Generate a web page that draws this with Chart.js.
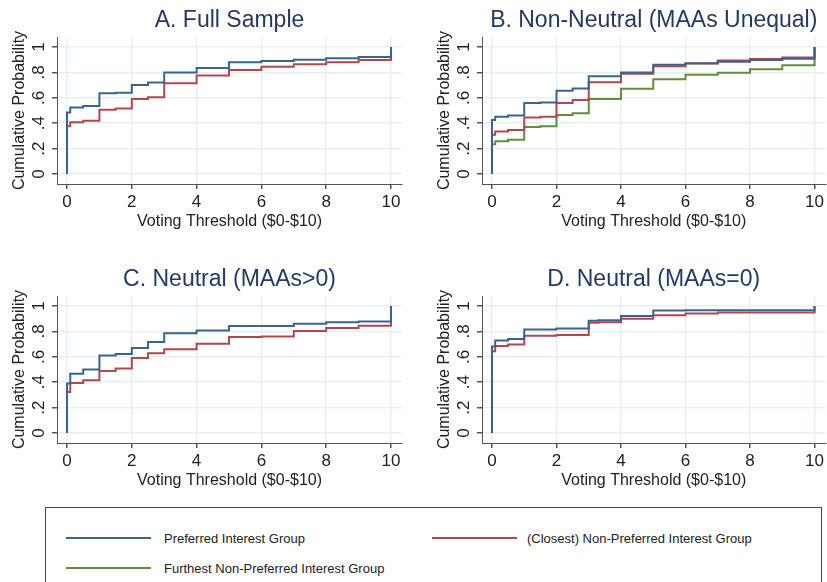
<!DOCTYPE html>
<html lang="en">
<head>
<meta charset="UTF-8">
<title>Voting Threshold - Cumulative Probability</title>
<script src="https://cdn.jsdelivr.net/npm/chart.js"></script>
<style>
  body { margin: 0; background: #fff; width: 827px; height: 582px; position: relative; overflow: hidden; }
  .painel { position: absolute; height: 235px; }
  .legenda { position: absolute; left: 45px; top: 507px; width: 777px; height: 90px; border: 1px solid #444;
    box-sizing: border-box; font-family: "Liberation Sans Narrow", "Arial Narrow", "Liberation Sans", sans-serif;
    font-size: 13px; color: #222; }
  .item { position: absolute; display: flex; align-items: center; height: 16px; }
  .traco { width: 85px; height: 2px; margin-right: 13px; }
</style>
</head>
<body>
  <div class="painel" style="left:0; top:0; width:410px;"><canvas id="graficoA"></canvas></div>
  <div class="painel" style="left:425px; top:0; width:402px;"><canvas id="graficoB"></canvas></div>
  <div class="painel" style="left:0; top:259px; width:410px;"><canvas id="graficoC"></canvas></div>
  <div class="painel" style="left:425px; top:259px; width:402px;"><canvas id="graficoD"></canvas></div>

  <div class="legenda">
    <div class="item" style="left:20px; top:22px;"><div class="traco" style="background:#38648f"></div>Preferred Interest Group</div>
    <div class="item" style="left:386px; top:22px;"><div class="traco" style="background:#b3464f; margin-right:10px"></div>(Closest) Non-Preferred Interest Group</div>
    <div class="item" style="left:20px; top:52px;"><div class="traco" style="background:#648c3a"></div>Furthest Non-Preferred Interest Group</div>
  </div>
</body>
</html>
<script>
// ticks
var xTicks = [0, 2, 4, 6, 8, 10];
var yTicks = [0, 0.2, 0.4, 0.6, 0.8, 1];

// A. Full Sample
var passosA = [0, 0, 0.1, 0.5, 1, 1.5, 2, 2.5, 3, 4, 5, 6, 7, 8, 9, 10];
var prefA   = [0, 0.485, 0.523, 0.535, 0.635, 0.64, 0.70, 0.72, 0.80, 0.835, 0.88, 0.89, 0.90, 0.912, 0.922, 1];
var naoPrefA = [0, 0.375, 0.407, 0.42, 0.505, 0.515, 0.59, 0.605, 0.715, 0.775, 0.82, 0.845, 0.865, 0.88, 0.897, 1];

// B. Non-Neutral (MAAs Unequal)
var passosB = [0, 0, 0.1, 0.5, 1, 1.5, 2, 2.5, 3, 4, 5, 6, 7, 8, 9, 10];
var prefB    = [0, 0.425, 0.45, 0.46, 0.56, 0.563, 0.655, 0.673, 0.77, 0.80, 0.86, 0.87, 0.885, 0.897, 0.908, 1];
var naoPrefB = [0, 0.308, 0.334, 0.347, 0.444, 0.45, 0.56, 0.582, 0.722, 0.79, 0.848, 0.873, 0.893, 0.906, 0.918, 1];
var longeB   = [0, 0.235, 0.258, 0.27, 0.37, 0.375, 0.465, 0.478, 0.59, 0.672, 0.747, 0.782, 0.797, 0.825, 0.857, 1];

// C. Neutral (MAAs>0)
var passosC = [0, 0, 0.1, 0.5, 1, 1.5, 2, 2.5, 3, 4, 5, 6, 7, 8, 9, 10];
var prefC    = [0, 0.39, 0.467, 0.50, 0.61, 0.623, 0.67, 0.717, 0.785, 0.808, 0.842, 0.842, 0.86, 0.872, 0.878, 1];
var naoPrefC = [0, 0.323, 0.394, 0.415, 0.488, 0.507, 0.59, 0.628, 0.66, 0.703, 0.756, 0.76, 0.803, 0.827, 0.845, 1];

// D. Neutral (MAAs=0)
var passosD = [0, 0, 0.1, 0.5, 1, 2, 3, 3.3, 4, 5, 6, 7, 10];
var prefD    = [0, 0.682, 0.728, 0.74, 0.815, 0.822, 0.885, 0.888, 0.922, 0.965, 0.966, 0.967, 1];
var naoPrefD = [0, 0.643, 0.685, 0.697, 0.765, 0.772, 0.868, 0.872, 0.9, 0.927, 0.942, 0.95, 1];

var corAzul = '#38648f';
var corVermelho = '#b3464f';
var corVerde = '#648c3a';

function pontos(xs, ys) {
  return xs.map((x, i) => ({ x: x, y: ys[i] }));
}

function serie(nome, xs, ys, cor) {
  return {
    label: nome,
    data: pontos(xs, ys),
    borderColor: cor,
    borderWidth: 2,
    pointRadius: 0,
    stepped: 'before',
    fill: false
  };
}

// titulo centrado sobre a area do grafico (como no Stata)
var tituloCentral = {
  id: 'tituloCentral',
  afterDraw(chart, args, opts) {
    var ctx = chart.ctx;
    var area = chart.chartArea;
    ctx.save();
    ctx.font = '23px "Liberation Sans", Arial, sans-serif';
    ctx.fillStyle = '#233a63';
    ctx.textAlign = 'center';
    ctx.textBaseline = 'middle';
    ctx.fillText(opts.texto, (area.left + area.right) / 2, 21);
    ctx.restore();
  }
};

function criarGrafico(id, titulo, series) {
  return new Chart(document.getElementById(id).getContext('2d'), {
    type: 'line',
    data: { datasets: series },
    plugins: [tituloCentral],
    options: {
      responsive: true,
      maintainAspectRatio: false,
      animation: false,
      layout: { padding: { top: 37, right: id == 'graficoA' || id == 'graficoC' ? 8 : 0 } },
      plugins: {
        legend: { display: false },
        tooltip: { enabled: false },
        tituloCentral: { texto: titulo }
      },
      scales: {
        x: {
          type: 'linear',
          min: -0.309,
          max: 10.34,
          afterBuildTicks: s => { s.ticks = xTicks.map(v => ({ value: v })); },
          afterFit: s => { s.height = 51; },
          grid: { color: '#e6eff2', lineWidth: 1.5, tickColor: '#555', tickLength: 5 },
          border: { color: '#555', width: 1 },
          ticks: { color: '#222', padding: 3, font: { family: 'Liberation Sans', size: 17 } },
          title: {
            display: true,
            text: 'Voting Threshold ($0-$10)',
            color: '#222',
            font: { family: 'Liberation Sans', size: 16 },
            padding: { top: 0, bottom: 4 }
          }
        },
        y: {
          min: -0.079,
          max: 1.079,
          afterBuildTicks: s => { s.ticks = yTicks.map(v => ({ value: v })); },
          afterFit: s => { s.width = 57; },
          grid: { color: '#e6eff2', lineWidth: 1.5, tickColor: '#555', tickLength: 5 },
          border: { color: '#555', width: 1 },
          ticks: {
            color: '#222',
            padding: 6,
            minRotation: 90,
            maxRotation: 90,
            crossAlign: 'center',
            font: { family: 'Liberation Sans', size: 17 },
            callback: v => v == 0 ? '0' : v == 1 ? '1' : String(Math.round(v * 10) / 10).replace(/^0/, '')
          },
          title: {
            display: true,
            text: 'Cumulative Probability',
            color: '#222',
            font: { family: 'Liberation Sans', size: 16 },
            padding: { top: 10, bottom: 0 }
          }
        }
      }
    }
  });
}

criarGrafico('graficoA', 'A. Full Sample', [
  serie('Preferred Interest Group', passosA, prefA, corAzul),
  serie('(Closest) Non-Preferred Interest Group', passosA, naoPrefA, corVermelho)
]);
criarGrafico('graficoB', 'B. Non-Neutral (MAAs Unequal)', [
  serie('Preferred Interest Group', passosB, prefB, corAzul),
  serie('(Closest) Non-Preferred Interest Group', passosB, naoPrefB, corVermelho),
  serie('Furthest Non-Preferred Interest Group', passosB, longeB, corVerde)
]);
criarGrafico('graficoC', 'C. Neutral (MAAs>0)', [
  serie('Preferred Interest Group', passosC, prefC, corAzul),
  serie('(Closest) Non-Preferred Interest Group', passosC, naoPrefC, corVermelho)
]);
criarGrafico('graficoD', 'D. Neutral (MAAs=0)', [
  serie('Preferred Interest Group', passosD, prefD, corAzul),
  serie('(Closest) Non-Preferred Interest Group', passosD, naoPrefD, corVermelho)
]);
</script>
